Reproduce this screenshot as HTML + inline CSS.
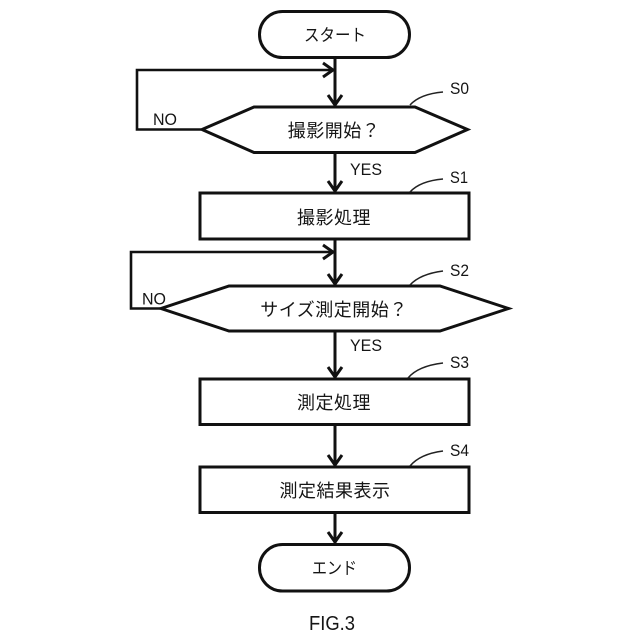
<!DOCTYPE html>
<html><head><meta charset="utf-8"><style>
html,body{margin:0;padding:0;background:#fff}
svg{display:block}
text{font-family:"Liberation Sans","Noto Sans CJK JP",sans-serif;fill:#151515}
.j{font-size:18px;letter-spacing:.5px;text-anchor:middle}
.k{font-size:17px;text-anchor:middle}
.l{font-size:16.500px}
</style></head><body>
<svg width="640" height="640" viewBox="0 0 640 640" xmlns="http://www.w3.org/2000/svg">
<g fill="none" stroke="#111" stroke-width="3">
<rect x="259.500" y="11.500" width="150" height="46" rx="23" ry="23"/>
<path d="M254 107H415L467.500 129.500L415 152.500H254L202 129.500Z"/>
<rect x="200" y="193" width="269" height="46"/>
<path d="M229 286H440L508.500 308.500L440 331H229L161 308.500Z"/>
<rect x="200" y="379" width="269" height="45.500"/>
<rect x="200" y="467" width="269" height="45.500"/>
<rect x="259.500" y="544.500" width="150" height="46.500" rx="23" ry="23"/>
<path d="M335 57V106M335 152V192M335 239V285M335 331V378M335 424V466M335 512V543"/>
<path d="M334 70H137V129.500H201" stroke-width="2.600"/>
<path d="M334 252H131V308.500H160" stroke-width="2.600"/>
<path d="M323 63L333 70L323 77M323 245L333 252L323 259"/>
<path d="M328 95L335 105L342 95M328 181L335 191L342 181M328 274L335 284L342 274M328 367L335 377L342 367M328 455L335 465L342 455M328 532L335 542L342 532"/>
</g>
<g fill="none" stroke="#222" stroke-width="1.500">
<path d="M410 105Q420 94 443 92"/>
<path d="M410 192Q420 181 443 179"/>
<path d="M410 285Q420 274 443 271"/>
<path d="M408 378Q418 366 443 363"/>
<path d="M410 466Q420 454 443 451"/>
</g>
<text class="k" x="335" y="41" textLength="62" lengthAdjust="spacingAndGlyphs">スタート</text>
<text class="j" x="334" y="137">撮影開始？</text>
<text class="j" x="334" y="224">撮影処理</text>
<text class="j" x="334" y="316">サイズ測定開始？</text>
<text class="j" x="334" y="409">測定処理</text>
<text class="j" x="335" y="497">測定結果表示</text>
<text class="k" x="334.500" y="574" textLength="45" lengthAdjust="spacingAndGlyphs">エンド</text>
<text class="l" x="153" y="125" textLength="24" lengthAdjust="spacingAndGlyphs">NO</text>
<text class="l" x="142" y="304.500" textLength="24" lengthAdjust="spacingAndGlyphs">NO</text>
<text class="l" x="350" y="175" textLength="32" lengthAdjust="spacingAndGlyphs">YES</text>
<text class="l" x="350" y="351" textLength="32" lengthAdjust="spacingAndGlyphs">YES</text>
<text class="l" x="450" y="94" textLength="19" lengthAdjust="spacingAndGlyphs">S0</text>
<text class="l" x="450" y="183" textLength="18" lengthAdjust="spacingAndGlyphs">S1</text>
<text class="l" x="450" y="276" textLength="19" lengthAdjust="spacingAndGlyphs">S2</text>
<text class="l" x="450" y="368" textLength="19" lengthAdjust="spacingAndGlyphs">S3</text>
<text class="l" x="450" y="456" textLength="19" lengthAdjust="spacingAndGlyphs">S4</text>
<text x="309" y="630" style="font-size:20px" textLength="46" lengthAdjust="spacingAndGlyphs">FIG.3</text>
</svg>
</body></html>
